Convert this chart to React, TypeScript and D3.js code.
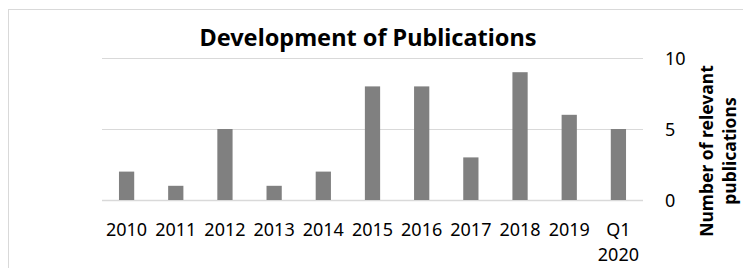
import React, { useEffect, useRef } from 'react';
import * as d3 from 'd3';

const categories = ['2010', '2011', '2012', '2013', '2014', '2015', '2016', '2017', '2018', '2019', 'Q1 2020'];
const values = [2, 1, 5, 1, 2, 8, 8, 3, 9, 6, 5];
const yTicks = [0, 5, 10];
const title = 'Development of Publications';
const axisTitle = ['Number of relevant', 'publications'];

const W = 743, H = 268;
const margin = { top: 58, right: 100, bottom: 68, left: 102 };
const FONT = '"Noto Sans", sans-serif';

const App = () => {
    const ref = useRef<SVGSVGElement>(null);

    useEffect(() => {
        const svg = d3.select(ref.current);
        svg.selectAll('*').remove();

        const x = d3.scaleBand()
            .domain(categories)
            .range([margin.left, W - margin.right])
            .paddingInner(0.69)
            .paddingOuter(0.345);
        const y = d3.scaleLinear().domain([0, 10]).range([H - margin.bottom, margin.top]);

        // chart frame
        svg.append('rect')
            .attr('x', 8.5).attr('y', 9.5)
            .attr('width', W).attr('height', H)
            .attr('fill', 'white')
            .attr('stroke', '#d9d9d9');

        // gridlines
        svg.append('g')
            .selectAll('line')
            .data(yTicks)
            .join('line')
            .attr('x1', margin.left).attr('x2', W - margin.right)
            .attr('y1', d => Math.round(y(d)) + 0.5).attr('y2', d => Math.round(y(d)) + 0.5)
            .attr('stroke', '#d9d9d9')
            .attr('stroke-width', d => d == 0 ? 1.5 : 1);

        // bars
        svg.append('g')
            .selectAll('rect')
            .data(values)
            .join('rect')
            .attr('x', (d, i) => x(categories[i])!)
            .attr('width', x.bandwidth())
            .attr('y', d => y(d))
            .attr('height', d => y(0) - y(d))
            .attr('fill', '#808080');

        // right axis labels
        svg.append('g')
            .selectAll('text')
            .data(yTicks)
            .join('text')
            .attr('x', 665)
            .attr('y', d => y(d) + 6.5)
            .style('font-family', FONT)
            .style('font-size', '18px')
            .attr('fill', '#000')
            .text(d => d);

        // category labels (wrapped on space for the last)
        const xl = svg.append('g')
            .selectAll('text')
            .data(categories)
            .join('text')
            .attr('text-anchor', 'middle')
            .style('font-family', FONT)
            .style('font-size', '18px')
            .attr('fill', '#000');
        xl.each(function (d) {
            const parts = d.split(' ');
            const cx = x(d)! + x.bandwidth() / 2;
            d3.select(this).selectAll('tspan')
                .data(parts)
                .join('tspan')
                .attr('x', cx)
                .attr('y', (p, j) => 236 + j * 25)
                .text(p => p);
        });

        // title
        svg.append('text')
            .attr('x', 368).attr('y', 46)
            .attr('text-anchor', 'middle')
            .style('font-family', FONT)
            .style('font-size', '23.5px')
            .style('font-weight', 'bold')
            .text(title);

        // axis title
        svg.append('g')
            .attr('transform', 'translate(713,151) rotate(-90)')
            .selectAll('text')
            .data(axisTitle)
            .join('text')
            .attr('x', 0)
            .attr('y', (d, i) => i * 23)
            .attr('text-anchor', 'middle')
            .style('font-family', FONT)
            .style('font-size', '17.5px')
            .style('font-weight', 'bold')
            .text(d => d);
    }, []);

    return (
        <svg ref={ref} width={W} height={H}
            style={{ position: 'absolute', left: 0, top: 0, background: 'white' }} />
    );
};

export default App;
